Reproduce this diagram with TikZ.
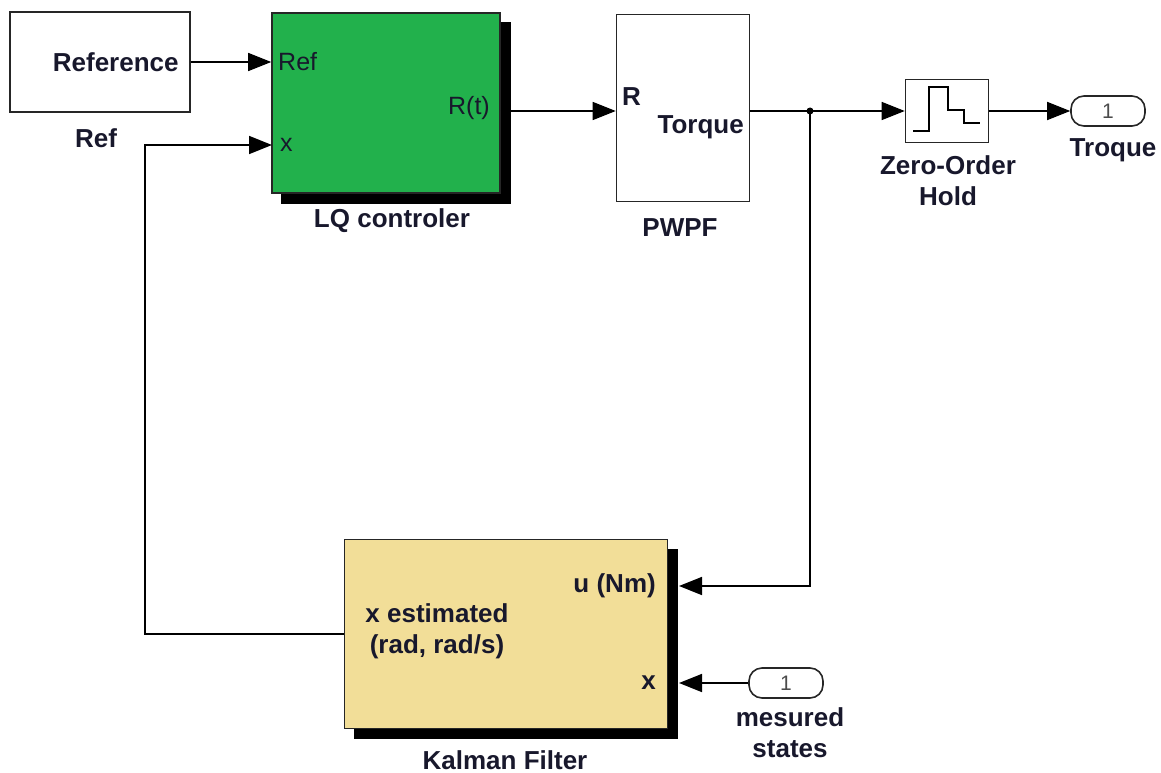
\documentclass[tikz,border=0pt]{standalone}
\usepackage{fontspec}
\setmainfont{Liberation Sans}
\usetikzlibrary{arrows.meta}
\definecolor{lqgreen}{RGB}{34,177,76}
\definecolor{kfyellow}{RGB}{242,222,152}
\definecolor{ink}{RGB}{24,24,44}
\pgfdeclarelayer{background layer}
\pgfsetlayers{background layer,main}
\tikzstyle{block}=[draw=black!85,line width=1.6pt,inner sep=0pt]
\tikzstyle{port}=[draw=black!85,line width=1.6pt,rounded corners=13pt,inner sep=0pt,minimum width=74pt,minimum height=30pt,text=black!70,font=\fontsize{21}{25}\selectfont]
\tikzstyle{lbl}=[text=ink,font=\fontsize{26}{31}\selectfont\bfseries,align=center,inner sep=0pt]
\tikzstyle{plbl}=[text=ink,font=\fontsize{25}{30}\selectfont,inner sep=0pt]
\tikzstyle{sig}=[line width=1.6pt,-{Triangle[length=23pt,width=18pt]}]

\begin{document}
\begin{tikzpicture}[x=1pt,y=-1pt]
			\useasboundingbox (0,0) rectangle (1161,773);
			
			\node (ref) at (100,62) [block,minimum width=180pt,minimum height=100pt] {};
			\node (lq) at (386,103) [block,fill=lqgreen,minimum width=228pt,minimum height=180pt] {};
			\node (pwpf) at (683,108) [block,minimum width=133pt,minimum height=187pt] {};
			\node (zoh) at (947,111) [block,minimum width=83pt,minimum height=63pt] {};
			\node (out) at (1108,111) [port] {1};
			\node (kf) at (506,634) [block,fill=kfyellow,minimum width=323pt,minimum height=189pt] {};
			\node (inp) at (786,683) [port] {1};
			
			\node (reftxt) at ([xshift=-12pt]ref.east) [lbl,anchor=east] {Reference};
			\node (reflbl) at (96,138) [lbl] {Ref};
			\node (lqref) at (278,62) [plbl,anchor=west] {Ref};
			\node (lqx) at (280,145) [plbl,anchor=west] {x};
			\node (lqrt) at (490,108) [plbl,anchor=east] {R(t)};
			\node (lqlbl) at (392,221) [lbl] {LQ controler};
			\node (pwr) at (622,97) [lbl,anchor=west] {R};
			\node (pwtq) at (744,127) [lbl,anchor=east] {Torque};
			\node (pwlbl) at (680,228) [lbl] {PWPF};
			\node (zohlbl) at (948,181) [lbl] {Zero-Order\\Hold};
			\node (outlbl) at (1113,150) [lbl] {Troque};
			\node (kfu) at (656,586) [lbl,anchor=east] {u (Nm)};
			\node (kfest) at (437,631) [lbl] {x estimated\\(rad, rad/s)};
			\node (kfx) at (656,683) [lbl,anchor=east] {x};
			\node (kflbl) at (505,760) [lbl] {Kalman Filter};
			\node (inplbl) at (790,733) [lbl] {mesured\\states};
			
			\coordinate (br) at (810,111);
			\coordinate (fb) at (145,634);
			\coordinate (lqin) at (272,145);
			\coordinate (kfuin) at (679,586);
			\coordinate (kfxin) at (679,683);
			
			\draw [sig] (ref.east) -- (ref.east -| lq.west);
			\draw [sig] (kf.west) -- (fb) |- (lqin);
			\draw [sig] (lq.east |- br) -- (pwpf.west |- br);
			\draw [line width=1.6pt] (pwpf.east |- br) -- (br);
			\draw [sig] (br) -- (zoh.west);
			\draw [sig] (br) |- (kfuin);
			\draw [sig] (zoh.east) -- (out.west);
			\draw [sig] (inp.west) -- (kfxin);
			\fill (br) circle (3.5pt);
			
			\draw [line width=1.6pt] ([shift={(-34,20)}]zoh.center) -- ++(16,0) -- ++(0,-44) -- ++(19,0) -- ++(0,23) -- ++(16,0) -- ++(0,13) -- ++(16,0);
			
			\begin{pgfonlayer}{background layer}
				\fill [black] ([shift={(10,10)}]lq.north west) rectangle ([shift={(10,10)}]lq.south east);
				\fill [black] ([shift={(10,10)}]kf.north west) rectangle ([shift={(10,10)}]kf.south east);
			\end{pgfonlayer}
		\end{tikzpicture}
\end{document}
